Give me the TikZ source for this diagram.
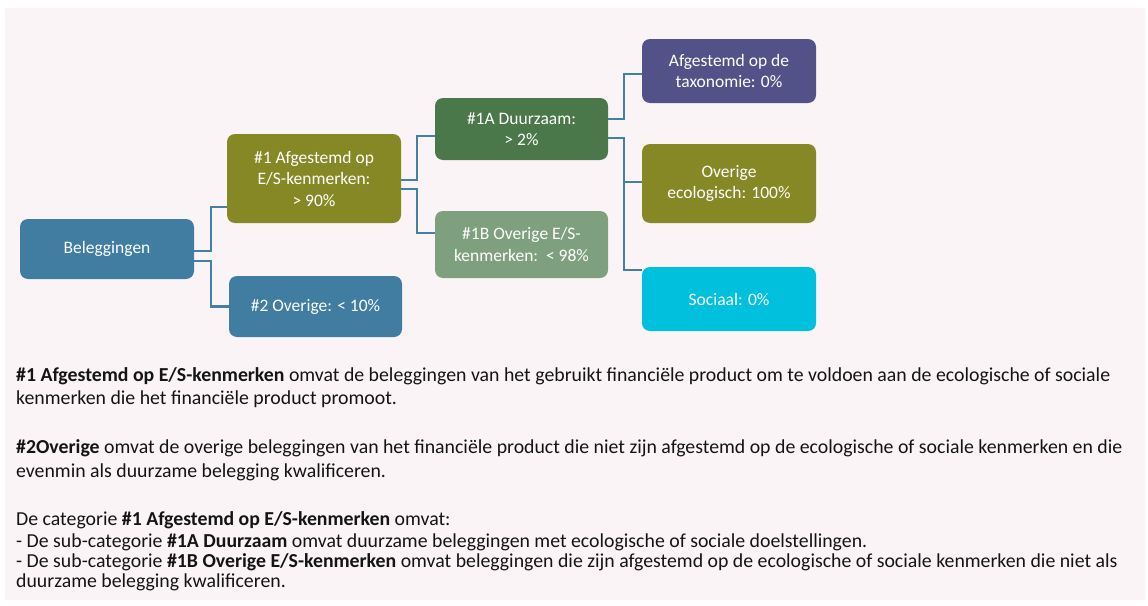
\documentclass[tikz,border=0pt]{standalone}
\usepackage{fontspec}
\setmainfont{Carlito}
\definecolor{bgpink}{RGB}{250,244,246}
\definecolor{cblue}{RGB}{64,125,160}
\definecolor{colive}{RGB}{134,136,38}
\definecolor{cdgreen}{RGB}{74,120,74}
\definecolor{csage}{RGB}{127,160,127}
\definecolor{cpurple}{RGB}{82,82,136}
\definecolor{ccyan}{RGB}{0,192,222}
\definecolor{cline}{RGB}{66,128,164}
\definecolor{ctext}{RGB}{20,20,20}
\begin{document}
\begin{tikzpicture}[x=1pt,y=-1pt,
  box/.style={rounded corners=8pt, text=white, align=center, inner sep=0pt,
    font=\fontsize{17.5}{21.5}\selectfont},
  conn/.style={draw=cline, line width=2.2pt},
  body/.style={anchor=base west, inner sep=0pt, text=ctext,
    font=\fontsize{19.8}{22}\selectfont}]
\useasboundingbox (0,0) rectangle (1148,605);
\fill[bgpink] (5,8) rectangle (1145,600);
% boxes
\node[box, fill=cblue, minimum width=174pt, minimum height=60pt] (bel) at (107,249) {Beleggingen};
\node[box, fill=colive, minimum width=174pt, minimum height=89pt] (a1) at (314,178.5) {\#1 Afgestemd op\\E/S-kenmerken:\\> 90\%};
\node[box, fill=cblue, minimum width=173pt, minimum height=61pt] (a2) at (315.5,306.5) {\#2 Overige: < 10\%};
\node[box, fill=cdgreen, minimum width=173pt, minimum height=62pt] (d1a) at (521.5,129) {\#1A Duurzaam:\\> 2\%};
\node[box, fill=csage, minimum width=173pt, minimum height=67pt] (d1b) at (521.5,244.5) {\#1B Overige E/S-\\kenmerken:\ \ < 98\%};
\node[box, fill=cpurple, minimum width=174pt, minimum height=64pt] (tax) at (729,71) {Afgestemd op de\\taxonomie: 0\%};
\node[box, fill=colive, minimum width=174pt, minimum height=79pt] (eco) at (729,183.5) {Overige\\ecologisch: 100\%};
\node[box, fill=ccyan, minimum width=174pt, minimum height=64pt] (soc) at (729,299) {Sociaal: 0\%};
% connectors
\draw[conn] ([yshift=-2pt]bel.east) -- ++(17,0) |- ([yshift=-28.5pt]a1.west);
\draw[conn] ([yshift=-12pt]bel.east) -- ++(17,0) |- (a2.west);
\draw[conn] ([yshift=-1.5pt]a1.east) -- ++(16,0) |- ([yshift=-7pt]d1a.west);
\draw[conn] ([yshift=-10.5pt]a1.east) -- ++(16,0) |- ([yshift=11.5pt]d1b.west);
\draw[conn] ([yshift=10pt]d1a.east) -- ++(16,0) |- ([yshift=-3pt]tax.west);
\draw[conn] ([yshift=-9pt]d1a.east) -- ++(16,0) |- ([yshift=1.5pt]eco.west);
\draw[conn] ([yshift=-9pt]d1a.east) -- ++(16,0) |- ([yshift=29pt]soc.west);
% body text
\node[body] (t1) at (16,381) {\textbf{\#1 Afgestemd op E/S-kenmerken} omvat de beleggingen van het gebruikt financiële product om te voldoen aan de ecologische of sociale};
\node[body] (t2) at (16,404) {kenmerken die het financiële product promoot.};
\node[body] (t3) at (16,453) {\textbf{\#2Overige} omvat de overige beleggingen van het financiële product die niet zijn afgestemd op de ecologische of sociale kenmerken en die};
\node[body] (t4) at (16,477) {evenmin als duurzame belegging kwalificeren.};
\node[body] (t5) at (16,525) {De categorie \textbf{\#1 Afgestemd op E/S-kenmerken} omvat:};
\node[body] (t6) at (16,547) {- De sub-categorie \textbf{\#1A Duurzaam} omvat duurzame beleggingen met ecologische of sociale doelstellingen.};
\node[body] (t7) at (16,567) {- De sub-categorie \textbf{\#1B Overige E/S-kenmerken} omvat beleggingen die zijn afgestemd op de ecologische of sociale kenmerken die niet als};
\node[body] (t8) at (16,587) {duurzame belegging kwalificeren.};
\end{tikzpicture}
\end{document}
